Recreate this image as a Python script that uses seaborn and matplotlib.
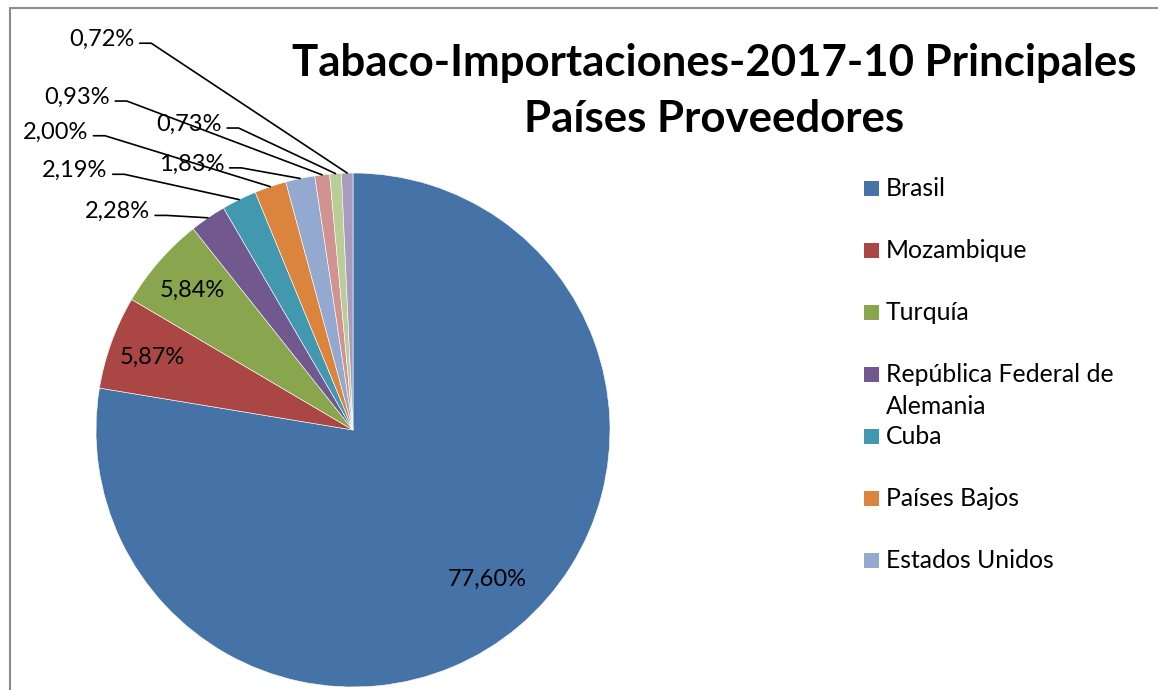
"""Tabaco - importaciones 2017, pie chart of the 10 main supplier countries"""
import numpy as np
import matplotlib
matplotlib.use("Agg")
import matplotlib.pyplot as plt
from matplotlib.patches import Rectangle
import seaborn as sns

# data
countries = ["Brasil", "Mozambique", "Turquía", "República Federal de\nAlemania",
             "Cuba", "Países Bajos", "Estados Unidos", "Otro 8", "Otro 9", "Otro 10"]
shares = [77.60, 5.87, 5.84, 2.28, 2.19, 2.00, 1.83, 0.93, 0.73, 0.72]
pct_labels = ["77,60%", "5,87%", "5,84%", "2,28%", "2,19%", "2,00%",
              "1,83%", "0,93%", "0,73%", "0,72%"]
legend_count = 7  # the legend in the original is cut after Estados Unidos
colors = sns.color_palette(["#4572A7", "#AA4643", "#89A54E", "#71588F", "#4198AF",
                            "#DB843D", "#93A9CF", "#D19392", "#B9CD96", "#A99BBD"])

# layout of the outside labels (right end of text, in pie-radius units)
outside_pos = {3: (-0.79, 0.85), 4: (-0.955, 1.01), 5: (-1.03, 1.16),
               6: (-0.50, 1.035), 7: (-0.945, 1.295), 8: (-0.51, 1.19),
               9: (-0.85, 1.52)}
inside_r = [0.76, 0.83, 0.83]

sns.set_theme(style="white")
plt.rcParams["font.family"] = ["Lato", "DejaVu Sans"]

W, H = 1158, 690
R = 257.0          # pie radius in px
cx, cy = 353, 430  # pie centre in px (from top-left)

fig = plt.figure(figsize=(W / 100, H / 100), dpi=100)
ax = fig.add_axes([0, 0, 1, 1])

wedges, _ = ax.pie(shares, colors=colors, startangle=90, counterclock=False,
                   radius=1.0, center=(0, 0), frame=True,
                   wedgeprops=dict(linewidth=0.4, edgecolor="white"))
ax.set_xlim(-cx / R, (W - cx) / R)
ax.set_ylim(-(H - cy) / R, cy / R)
ax.set_aspect("equal")
ax.axis("off")

for i, w in enumerate(wedges):
    mid = np.deg2rad((w.theta1 + w.theta2) / 2)
    ex, ey = np.cos(mid), np.sin(mid)
    if i < 3:
        ax.text(inside_r[i] * ex + (0.03 if i == 0 else 0), inside_r[i] * ey,
                pct_labels[i], ha="center", va="center", fontsize=17, color="black")
    else:
        tx, ty = outside_pos[i]
        ax.text(tx, ty, pct_labels[i], ha="right", va="center", fontsize=17,
                color="black")
        x0 = tx + 0.02
        x1 = x0 + 0.045
        ax.plot([x0, x1, ex], [ty - 0.015, ty - 0.015, ey], color="black",
                lw=1.2, clip_on=False)

# title
fig.text(714 / W, 1 - 91 / H, "Tabaco-Importaciones-2017-10 Principales\nPaíses Proveedores",
         ha="center", va="center", fontsize=31.5, fontweight="bold",
         linespacing=1.5, color="black")

# legend (fixed pitch like the original, long label overflows)
for i in range(legend_count):
    y_px = 188 + 62 * i
    fig.patches.append(Rectangle((864 / W, 1 - (y_px + 7.5) / H), 15 / W, 15 / H,
                                 transform=fig.transFigure, facecolor=colors[i],
                                 edgecolor="none"))
    fig.text(886 / W, 1 - (y_px - 11) / H, countries[i], ha="left", va="top",
             fontsize=17.8, linespacing=1.45, color="black")

# chart border
fig.patches.append(Rectangle((10 / W, -0.1), 1.2, 1 - 8 / H + 0.1,
                             transform=fig.transFigure, fill=False,
                             edgecolor="#8c8c8c", lw=1.5))

fig.savefig("out.png", dpi=100, facecolor="white")
